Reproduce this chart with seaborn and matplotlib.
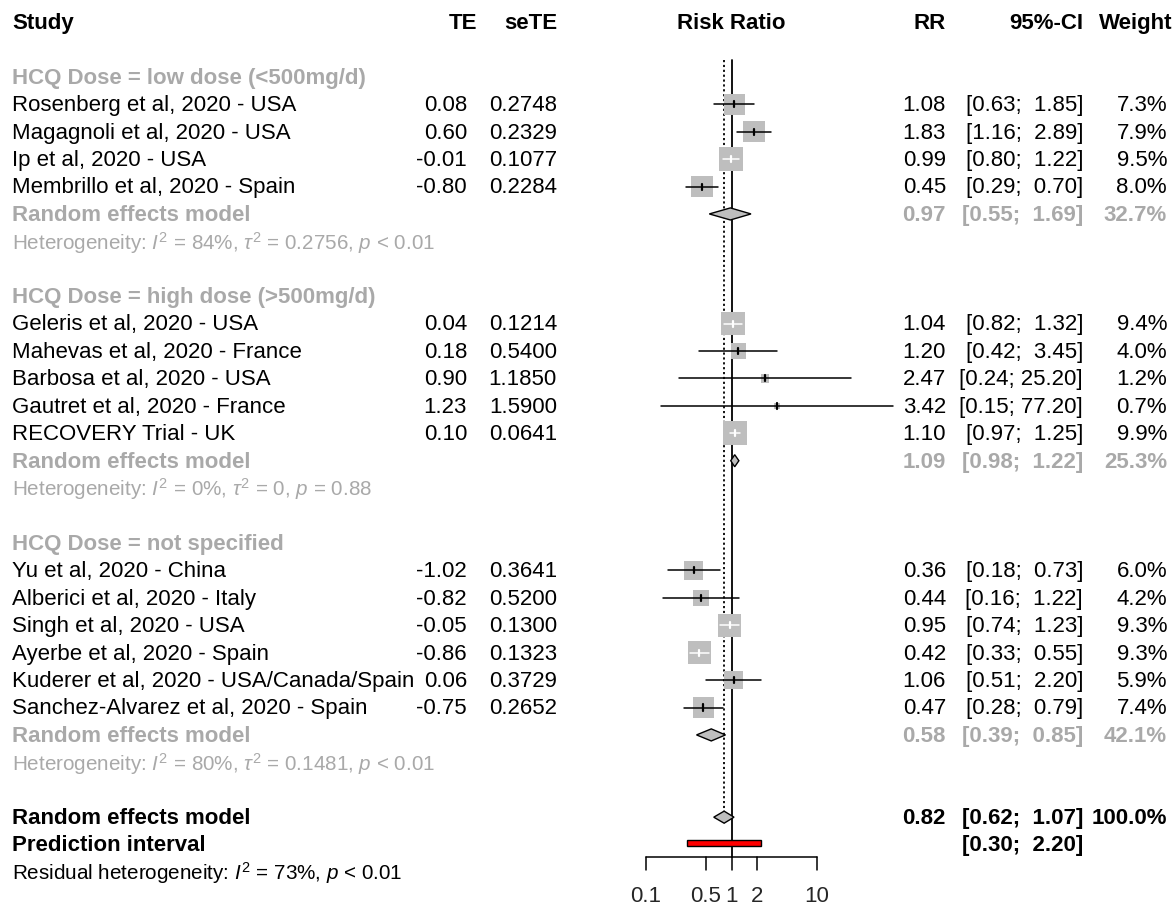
import numpy as np
import pandas as pd
import matplotlib
matplotlib.use("Agg")
import matplotlib.pyplot as plt
import matplotlib.transforms as mtransforms
import seaborn as sns

# ============================================================================
# DATA
# ============================================================================

studies = [
    "Rosenberg et al, 2020 - USA", "Magagnoli et al, 2020 - USA",
    "Ip et al, 2020 - USA", "Membrillo et al, 2020 - Spain",
    "Geleris et al, 2020 - USA", "Mahevas et al, 2020 - France",
    "Barbosa et al, 2020 - USA", "Gautret et al, 2020 - France",
    "RECOVERY Trial - UK",
    "Yu et al, 2020 - China", "Alberici et al, 2020 - Italy",
    "Singh et al, 2020 - USA", "Ayerbe et al, 2020 - Spain",
    "Kuderer et al, 2020 - USA/Canada/Spain",
    "Sanchez-Alvarez et al, 2020 - Spain",
]
dose = ["low"] * 4 + ["high"] * 5 + ["ns"] * 6
te = [0.08, 0.60, -0.01, -0.80, 0.04, 0.18, 0.90, 1.23, 0.10,
      -1.02, -0.82, -0.05, -0.86, 0.06, -0.75]
sete = [0.2748, 0.2329, 0.1077, 0.2284, 0.1214, 0.5400, 1.1850, 1.5900, 0.0641,
        0.3641, 0.5200, 0.1300, 0.1323, 0.3729, 0.2652]
rr = [1.08, 1.83, 0.99, 0.45, 1.04, 1.20, 2.47, 3.42, 1.10,
      0.36, 0.44, 0.95, 0.42, 1.06, 0.47]
ci_lo = [0.63, 1.16, 0.80, 0.29, 0.82, 0.42, 0.24, 0.15, 0.97,
         0.18, 0.16, 0.74, 0.33, 0.51, 0.28]
ci_hi = [1.85, 2.89, 1.22, 0.70, 1.32, 3.45, 25.20, 77.20, 1.25,
         0.73, 1.22, 1.23, 0.55, 2.20, 0.79]
weight = [7.3, 7.9, 9.5, 8.0, 9.4, 4.0, 1.2, 0.7, 9.9,
          6.0, 4.2, 9.3, 9.3, 5.9, 7.4]

groups = ["low", "high", "ns"]
group_labels = ["HCQ Dose = low dose (<500mg/d)",
                "HCQ Dose = high dose (>500mg/d)",
                "HCQ Dose = not specified"]
sub_rr = [0.97, 1.09, 0.58]
sub_lo = [0.55, 0.98, 0.39]
sub_hi = [1.69, 1.22, 0.85]
sub_w = [32.7, 25.3, 42.1]
sub_het = [r"Heterogeneity: $I^2$ = 84%, $\tau^2$ = 0.2756, $p$ < 0.01",
           r"Heterogeneity: $I^2$ = 0%, $\tau^2$ = 0, $p$ = 0.88",
           r"Heterogeneity: $I^2$ = 80%, $\tau^2$ = 0.1481, $p$ < 0.01"]

overall_rr, overall_lo, overall_hi = 0.82, 0.62, 1.07
pi_lo, pi_hi = 0.30, 2.20
resid_het = r"Residual heterogeneity: $I^2$ = 73%, $p$ < 0.01"
axis_ticks = [0.1, 0.5, 1, 2, 10]
axis_labels = ["0.1", "0.5", "1", "2", "10"]

df = pd.DataFrame({"study": studies, "dose": dose, "TE": te, "seTE": sete,
                   "RR": rr, "lo": ci_lo, "hi": ci_hi, "w": weight})

# ============================================================================
# LAYOUT
# ============================================================================

W, H, DPI = 1176, 911, 100
ROW0, ROWH = 22, 27.42          # pixel y of header row, row height
X1, DEC = 731.5, 85.5           # pixel x of RR=1, pixels per decade
SQ_MAX = 24                     # square side (px) of the largest weight
GREY_TXT = "#a9a9a9"
GREY_SQ = "#bebebe"
FS, FS_HET = 16, 14.9
TXT_DY = 0.05                   # small downward nudge of text in rows

sns.set_theme(style="white")
plt.rcParams["font.family"] = ["Liberation Sans", "DejaVu Sans"]
plt.rcParams["mathtext.fontset"] = "custom"
plt.rcParams["mathtext.rm"] = "Liberation Sans"
plt.rcParams["mathtext.it"] = "Liberation Sans:italic"
plt.rcParams["mathtext.bf"] = "Liberation Sans:bold"

fig = plt.figure(figsize=(W / DPI, H / DPI), dpi=DPI)
ax = fig.add_axes([0, 0, 1, 1])
ax.set_xscale("log")
ax.set_xlim(10 ** (-X1 / DEC), 10 ** ((W - X1) / DEC))
ax.set_ylim((H - ROW0) / ROWH, -ROW0 / ROWH)
ax.axis("off")

tr = mtransforms.blended_transform_factory(ax.transAxes, ax.transData)


def put(x_px, row, s, ha="left", color="black", weight="normal", size=FS):
    ax.text(x_px / W, row + TXT_DY, s, transform=tr, ha=ha, va="center",
            color=color, fontweight=weight, fontsize=size)


def ci_str(lo, hi):
    return "[{:.2f}; {:>5.2f}]".format(lo, hi)


# header
put(12, 0, "Study", weight="bold")
put(477, 0, "TE", ha="right", weight="bold")
put(557, 0, "seTE", ha="right", weight="bold")
put(X1, 0, "Risk Ratio", ha="center", weight="bold")
put(946, 0, "RR", ha="right", weight="bold")
put(1083, 0, "95%-CI", ha="right", weight="bold")
put(1172, 0, "Weight", ha="right", weight="bold")

# assign rows: label, studies, RE model, heterogeneity, blank
rows = []
label_rows = []
sub_rows = []
r = 2
for g in groups:
    label_rows.append(r)
    n = (df["dose"] == g).sum()
    rows.extend(range(r + 1, r + 1 + n))
    sub_rows.append(r + 1 + n)
    r = r + n + 4
df["row"] = rows
overall_row = r
pi_row = overall_row + 1
resid_row = overall_row + 2

# reference lines
ay = overall_row + 1.45
ax.plot([1, 1], [1.4, ay], color="black", lw=1.3, zorder=1)
ax.plot([overall_rr, overall_rr], [1.4, overall_row], color="black", lw=1.3,
        ls=(0, (1.2, 1.5)), zorder=1)

# study squares (area proportional to weight)
wmax = df["w"].max()
sns.scatterplot(data=df, x="RR", y="row", size="w",
                sizes=(0, (SQ_MAX * 0.72) ** 2), size_norm=(0, wmax),
                marker="s", color=GREY_SQ, linewidth=0,
                legend=False, ax=ax, zorder=2)

# CI lines and point ticks; white when the interval sits inside the square
for _, s in df.iterrows():
    half = SQ_MAX * np.sqrt(s["w"] / wmax) / 2 / DEC
    inside = (np.log10(s["RR"]) - np.log10(s["lo"]) < half and
              np.log10(s["hi"]) - np.log10(s["RR"]) < half)
    c = "white" if inside else "black"
    ax.plot([s["lo"], s["hi"]], [s["row"], s["row"]], color=c, lw=1.1, zorder=3)
    ax.plot([s["RR"], s["RR"]], [s["row"] - 0.11, s["row"] + 0.11], color=c,
            lw=1.6, zorder=3)

    put(12, s["row"], s["study"])
    put(467, s["row"], "{:.2f}".format(s["TE"]), ha="right")
    put(557, s["row"], "{:.4f}".format(s["seTE"]), ha="right")
    put(946, s["row"], "{:.2f}".format(s["RR"]), ha="right")
    put(1083, s["row"], ci_str(s["lo"], s["hi"]), ha="right")
    put(1167, s["row"], "{:.1f}%".format(s["w"]), ha="right")


def diamond(est, lo, hi, row, h=0.22):
    ax.fill([lo, est, hi, est], [row, row - h, row, row + h],
            facecolor=GREY_SQ, edgecolor="black", lw=1.0, zorder=4)


# subgroups
for i, g in enumerate(groups):
    put(12, label_rows[i], group_labels[i], color=GREY_TXT, weight="bold")
    sr = sub_rows[i]
    diamond(sub_rr[i], sub_lo[i], sub_hi[i], sr)
    put(12, sr, "Random effects model", color=GREY_TXT, weight="bold")
    put(946, sr, "{:.2f}".format(sub_rr[i]), ha="right", color=GREY_TXT, weight="bold")
    put(1083, sr, ci_str(sub_lo[i], sub_hi[i]), ha="right", color=GREY_TXT, weight="bold")
    put(1167, sr, "{:.1f}%".format(sub_w[i]), ha="right", color=GREY_TXT, weight="bold")
    put(12, sr + 1, sub_het[i], color=GREY_TXT, size=FS_HET)

# overall
diamond(overall_rr, overall_lo, overall_hi, overall_row)
put(12, overall_row, "Random effects model", weight="bold")
put(946, overall_row, "{:.2f}".format(overall_rr), ha="right", weight="bold")
put(1083, overall_row, ci_str(overall_lo, overall_hi), ha="right", weight="bold")
put(1167, overall_row, "100.0%", ha="right", weight="bold")

ax.barh(pi_row - 0.07, pi_hi - pi_lo, left=pi_lo, height=0.22, color="red",
        edgecolor="black", lw=1.0, zorder=4)
put(12, pi_row, "Prediction interval", weight="bold")
put(1083, pi_row, ci_str(pi_lo, pi_hi), ha="right", weight="bold")
put(12, resid_row, resid_het, size=FS_HET)

# x axis
ax.plot([axis_ticks[0], axis_ticks[-1]], [ay, ay], color="black", lw=1.1)
for t, lab in zip(axis_ticks, axis_labels):
    ax.plot([t, t], [ay, ay + 0.48], color="black", lw=1.1)
    ax.text(t, ay + 1.45, lab, ha="center", va="center", fontsize=FS)

fig.savefig("out.png", dpi=DPI)
